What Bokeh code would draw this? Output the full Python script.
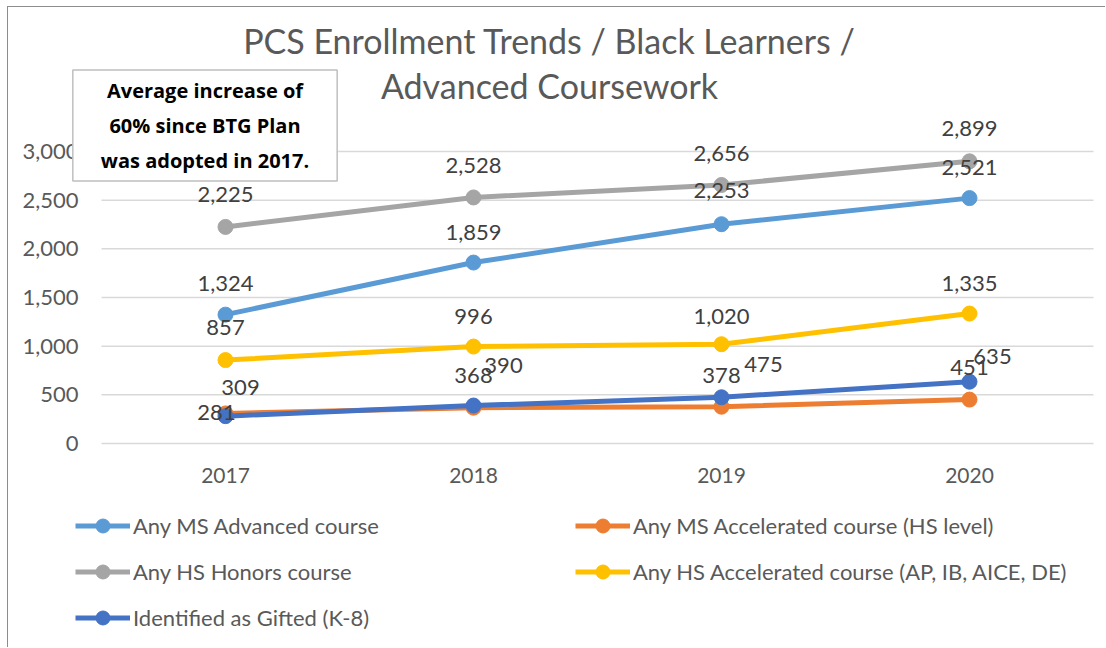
from bokeh.plotting import figure
from bokeh.models import (ColumnDataSource, LabelSet, Label, Legend, LegendItem, Range1d)
from bokeh.core.properties import value
from bokeh.embed import file_html
from bokeh.resources import INLINE

# ---------------- data ----------------
years = [2017, 2018, 2019, 2020]
ms_advanced = [1324, 1859, 2253, 2521]
ms_accelerated = [309, 368, 378, 451]
hs_honors = [2225, 2528, 2656, 2899]
hs_accelerated = [857, 996, 1020, 1335]
gifted = [281, 390, 475, 635]
series_names = ["Any MS Advanced course", "Any MS Accelerated course (HS level)",
                "Any HS Honors course", "Any HS Accelerated course (AP, IB, AICE, DE)",
                "Identified as Gifted (K-8)"]
title_lines = ["PCS Enrollment Trends / Black Learners /", "Advanced Coursework"]
note_text = "Average increase of\n60% since BTG Plan\nwas adopted in 2017."
y_ticks = [0, 500, 1000, 1500, 2000, 2500, 3000]
x_tick_labels = [str(y) for y in years]
y_tick_labels = [f"{t:,}" for t in y_ticks]

# ---------------- styles ----------------
colors = ["#5B9BD5", "#ED7D31", "#A5A5A5", "#FFC000", "#4472C4"]
# data-label offsets in px (dx right, dy up)
label_dx = [[0, 0, 0, 0], [15, 0, 0, 0], [0, 0, 0, 0], [0, 0, 0, 0], [-9, 30, 42, 23]]
label_dy = [[31, 30, 34, 31], [26, 32, 31, 32], [32, 32, 31, 33], [33, 30, 28, 30], [4, 40, 33, 25]]
legend_order = [0, 2, 4, 1, 3]   # column-major fill of a 2-column legend
FONT = "Lato"
TXT = "#595959"
LBL = "#404040"
GRID = "#d9d9d9"

# canvas and plot-area geometry (px inside the figure)
W, H = 1098, 641
PL, PR, PT, PB = 93, 1085, 144, 436
X0, X1 = 2016.5, 2020.5
Y0, Y1 = 0, 3000
kx = (X1 - X0) / (PR - PL)
ky = (Y1 - Y0) / (PB - PT)
XS, XE = X0 - PL * kx, X1 + (W - PR) * kx
YS, YE = Y0 - (H - PB) * ky, Y1 + PT * ky


def to_x(px):
    return XS + px * kx


def to_y(py):
    return YE - py * ky


p = figure(width=W, height=H, output_backend="svg", toolbar_location=None,
           x_range=Range1d(XS, XE), y_range=Range1d(YS, YE), min_border=0)
p.styles = {"margin-left": "7px", "margin-top": "6px",
            "border-top": "1px solid #8c8c8c", "border-left": "1px solid #8c8c8c"}
p.outline_line_color = None
p.background_fill_color = "white"
p.border_fill_color = "white"
p.xaxis.visible = False
p.yaxis.visible = False
p.grid.visible = False

# gridlines
p.segment(x0=[X0] * len(y_ticks), x1=[X1] * len(y_ticks), y0=y_ticks, y1=y_ticks,
          line_color=GRID, line_width=1.5)

# tick labels
ysrc = ColumnDataSource(dict(x=[X0] * len(y_ticks), y=y_ticks, text=y_tick_labels))
p.add_layout(LabelSet(x="x", y="y", text="text", source=ysrc, x_offset=-23,
                      text_align="right", text_baseline="middle", text_font=value(FONT),
                      text_font_size="22px", text_color=TXT))
xsrc = ColumnDataSource(dict(x=years, y=[Y0] * len(years), text=x_tick_labels))
p.add_layout(LabelSet(x="x", y="y", text="text", source=xsrc, y_offset=-32,
                      text_align="center", text_baseline="middle", text_font=value(FONT),
                      text_font_size="21px", text_color=TXT))

all_series = [ms_advanced, ms_accelerated, hs_honors, hs_accelerated, gifted]
items = []
for i, vals in enumerate(all_series):
    src = ColumnDataSource(dict(x=years, y=vals, text=[f"{v:,}" for v in vals],
                                dx=label_dx[i], dy=label_dy[i]))
    lr = p.line("x", "y", source=src, line_color=colors[i], line_width=5)
    sr = p.scatter("x", "y", source=src, size=15, fill_color=colors[i], line_color=colors[i])
    items.append(LegendItem(label=series_names[i], renderers=[lr, sr]))
    p.add_layout(LabelSet(x="x", y="y", text="text", source=src, x_offset="dx", y_offset="dy",
                          text_align="center", text_baseline="middle",
                          text_font=value(FONT), text_font_size="22px", text_color=LBL))

legend = Legend(items=[items[k] for k in legend_order], ncols=2, location=(67, 13),
                padding=0, margin=0, spacing=11, glyph_width=55, glyph_height=35,
                label_standoff=3, label_width=431, label_height=35, label_text_font=FONT,
                label_text_font_size="22px", label_text_color=TXT,
                border_line_color=None, background_fill_alpha=0)
p.add_layout(legend, "center")

for j, line in enumerate(title_lines):
    p.add_layout(Label(x=to_x(541), y=to_y(33 + 45 * j), text=line, text_align="center",
                       text_baseline="middle", text_font=FONT, text_font_size="34px",
                       text_color=TXT))

p.add_layout(Label(x=to_x(196.5), y=to_y(118), text=note_text, text_align="center",
                   text_baseline="middle", text_font="Open Sans", text_font_size="20px",
                   text_font_style="bold", text_color="black", text_line_height=1.3,
                   background_fill_color="white", border_line_color="#bfbfbf",
                   border_line_width=1.5,
                   padding=dict(left=28, right=28, top=7, bottom=7)))

open("out.html", "w").write(file_html(p, INLINE))
